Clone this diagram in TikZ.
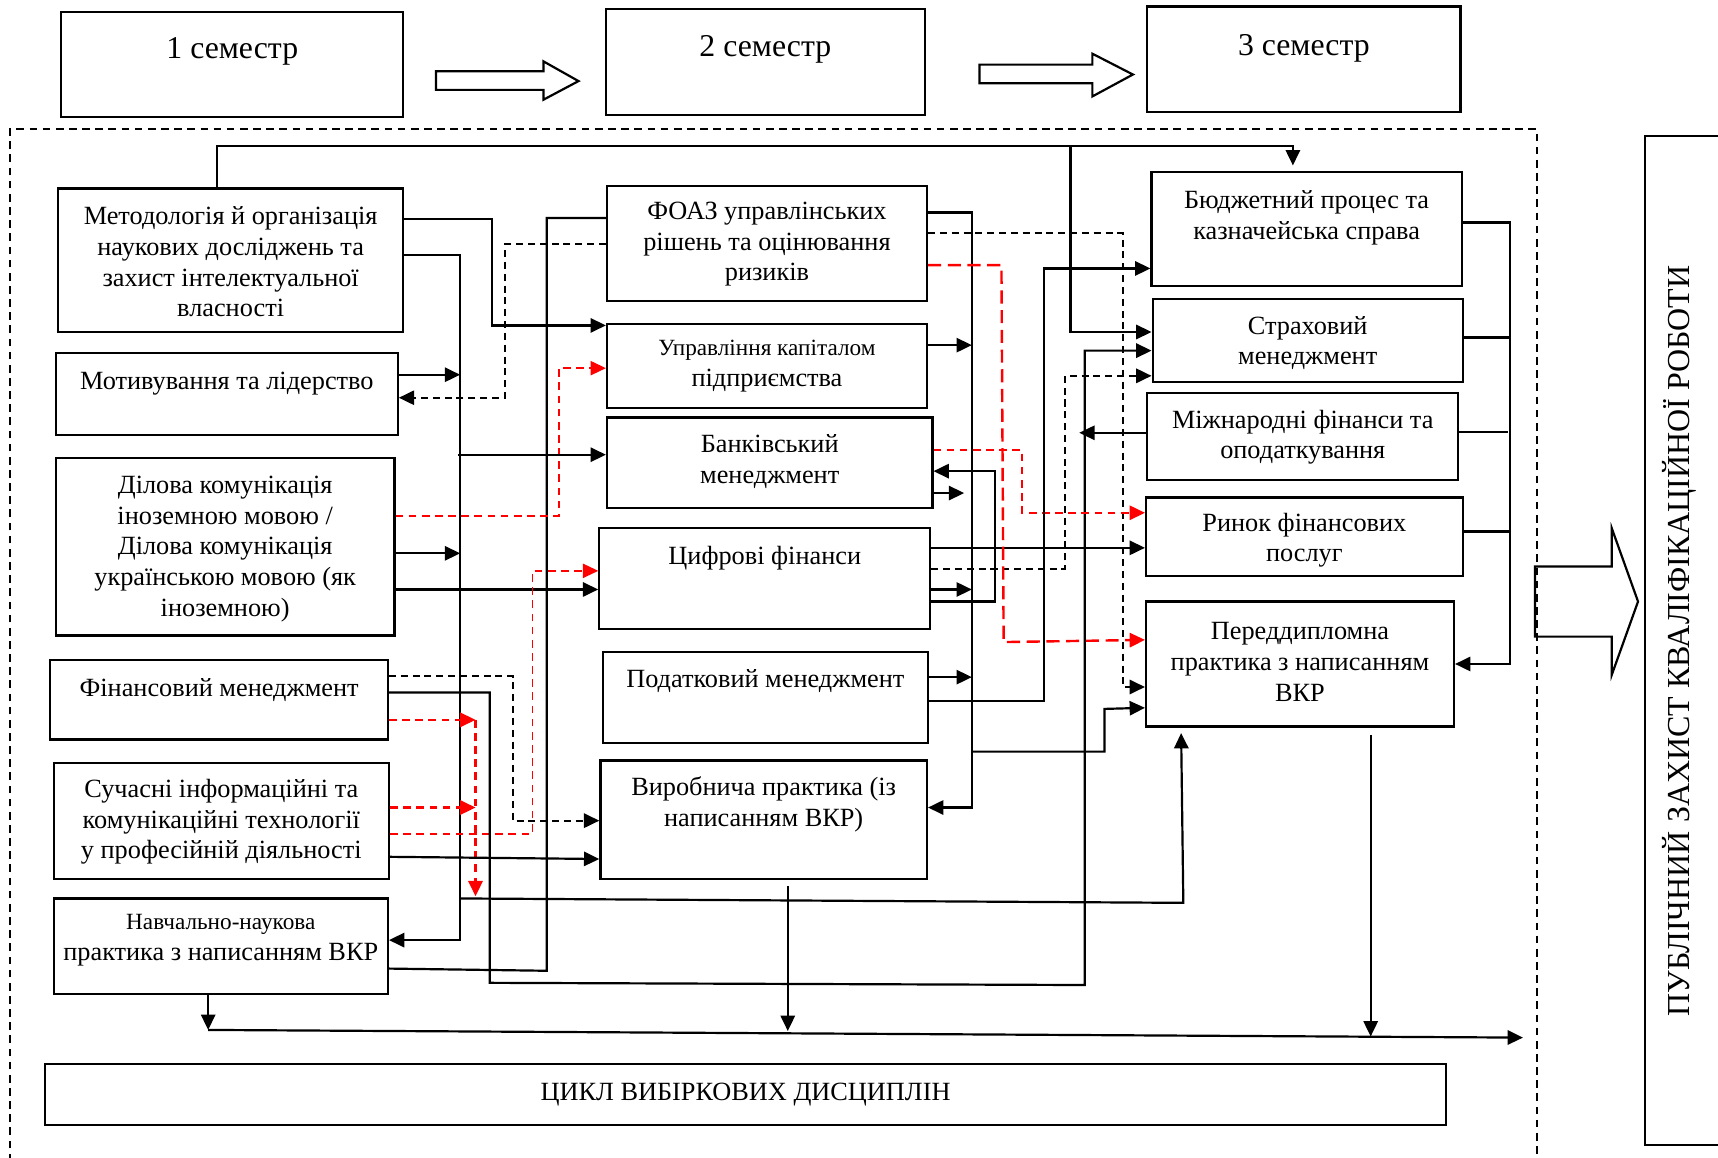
\documentclass[tikz,border=0pt]{standalone}
\usepackage{fontspec}
\setmainfont{Liberation Serif}
\usetikzlibrary{arrows.meta}
\newcommand\ftop{\fontsize{14.5}{17}\selectfont}
\newcommand\fsm{\fontsize{10.6}{13}\selectfont}
\newcommand\bx[7]{%
  \node[box, minimum width={(#4-#2)*0.5pt}, minimum height={(#5-#3)*0.5pt}] (#1) at ({(#2+#4)/2},{(#3+#5)/2}) {};
  \node[txt] (#1t) at ({(#2+#4)/2},#6) {#7};}
\begin{document}
\begin{tikzpicture}[x=0.5pt,y=-0.5pt,
  box/.style={draw,line width=1pt,inner sep=0pt},
  txt/.style={align=center,font=\fontsize{12}{14}\selectfont,inner sep=0pt},
  ln/.style={line width=1pt},
  ar/.style={ln,-{Triangle[length=7pt,width=6.5pt]}},
  dsh/.style={dash pattern=on 3.2pt off 2.2pt},
  rdsh/.style={draw=red,dash pattern=on 3.5pt off 2.5pt},
  rlong/.style={draw=red,dash pattern=on 6pt off 3pt}]
\useasboundingbox (0,0) rectangle (1568,1056);

% semester boxes
\bx{S1}{56}{11}{368}{107}{47}{\ftop 1 семестр}
\bx{S2}{553}{8}{844}{105}{45}{\ftop 2 семестр}
\bx{S3}{1047}{6}{1333}{102}{44}{\ftop 3 семестр}
\draw[line width=1pt] (398,65) -- (496,65) -- (496,56) -- (528,74) -- (496,91) -- (496,82) -- (398,82) -- cycle;
\draw[line width=1pt] (894,59) -- (997,59) -- (997,49) -- (1034,68) -- (997,88) -- (997,76) -- (894,76) -- cycle;

% dashed frame
\draw[line width=1pt,dash pattern=on 3.5pt off 2.5pt] (9,1060) -- (9,118) -- (1403,118) -- (1403,1060);

% left column
\bx{M}{53}{172}{368}{303}{239}{Методологія й організація\\наукових досліджень та\\захист інтелектуальної\\власності}
\bx{Mot}{51}{322}{363}{397}{350}{Мотивування та лідерство}
\bx{D}{51}{418}{360}{580}{501}{Ділова комунікація\\іноземною мовою /\\Ділова комунікація\\українською мовою (як\\іноземною)}
\bx{F}{46}{602}{354}{675}{630}{Фінансовий менеджмент}
\bx{C}{49}{696}{355}{802}{750}{Сучасні інформаційні та\\комунікаційні технології\\у професійній діяльності}
\bx{N}{49}{820}{354}{907}{858}{\fsm Навчально-наукова\\практика з написанням ВКР}

% middle column
\bx{FOAZ}{554}{170}{846}{275}{223}{ФОАЗ управлінських\\рішень та оцінювання\\ризиків}
\bx{UK}{554}{296}{846}{372}{334}{\fsm Управління капіталом\\підприємства}
\bx{BM}{554}{381}{851}{464}{421}{Банківський\\менеджмент}
\bx{CF}{547}{482}{849}{574}{509}{Цифрові фінанси}
\bx{PM}{550}{595}{847}{678}{622}{Податковий менеджмент}
\bx{VP}{548}{694}{846}{802}{734}{Виробнича практика (із\\написанням ВКР)}

% right column
\bx{BP}{1051}{157}{1334}{261}{199}{Бюджетний процес та\\казначейська справа}
\bx{SM}{1052}{273}{1335}{349}{313}{Страховий\\менеджмент}
\bx{MF}{1047}{359}{1331}{438}{399}{Міжнародні фінанси та\\оподаткування}
\bx{RF}{1046}{454}{1335}{526}{493}{Ринок фінансових\\послуг}
\bx{PD}{1046}{549}{1327}{663}{604}{Переддипломна\\практика з написанням\\ВКР}

% bottom
\bx{CV}{41}{971}{1320}{1027}{999}{ЦИКЛ ВИБІРКОВИХ ДИСЦИПЛІН}

% public defence
\node[box, minimum width={74*0.5pt}, minimum height={921*0.5pt}] (PZ) at (1538,584.5) {};
\node[rotate=90,inner sep=0pt,font=\fontsize{14.6}{17}\selectfont] (PZt) at (1533,585) {ПУБЛІЧНИЙ ЗАХИСТ КВАЛІФІКАЦІЙНОЇ РОБОТИ};
\draw[line width=1pt] (1401,517) -- (1471,517) -- (1471,482) -- (1495,549) -- (1471,616) -- (1471,581) -- (1401,581) -- cycle;

% free ends / junctions
\coordinate (j1) at (977,133);
\coordinate (k1) at (420,342);
\coordinate (k2) at (418,415);
\coordinate (k3) at (420,505);
\coordinate (k4) at (420,820);
\coordinate (r1) at (434,657);
\coordinate (r2) at (434,818);
\coordinate (r3) at (434,737);
\coordinate (e0) at (190,940);
\coordinate (e1) at (1390,947);
\coordinate (e2) at (719,941);
\coordinate (e3) at (1251,946);
\coordinate (m1) at (887,315);
\coordinate (m2) at (880,450);
\coordinate (m3) at (887,538);
\coordinate (m4) at (887,618);
\coordinate (m5) at (887,686);
\coordinate (q1) at (985,395);

% top line
\draw[ar] (M.north -| 198,0) -- (198,133) -- (1180,133) -- ([yshift=2.5pt]BP.north -| 1180,0);
\draw[ar] (j1) -- (977,303) -- (SM.west |- 0,303);

% left side connectors
\draw[ar] (M.east |- 0,200) -- (449,200) -- (449,297) -- (UK.west |- 0,297);
\draw[ar] (M.east |- 0,233) -- (420,233) -- (420,858) -- (N.east |- 0,858);
\draw[ar] (Mot.east |- 0,342) -- (k1);
\draw[ar,dsh] (FOAZ.west |- 0,223) -- (461,223) -- (461,363) -- (Mot.east |- 0,363);
\draw[ln] (FOAZ.west |- 0,199) -- (499,199) -- (499,886) -- (N.east |- 0,884);
\draw[ar,rdsh,line width=0.7pt] (D.east |- 0,471) -- (510,471) -- (510,336) -- (UK.west |- 0,336);
\draw[ar] (k2) -- (BM.west |- 0,415);
\draw[ar] (D.east |- 0,505) -- (k3);
\draw[ar] (D.east |- 0,538) -- (CF.west |- 0,538);
\draw[ar,rdsh,line width=0.7pt] (C.east |- 0,761) -- (486,761) -- (486,521) -- (CF.west |- 0,521);
\draw[ar,dsh] (F.east |- 0,617) -- (468,617) -- (468,749) -- (VP.west |- 0,749);
\draw[ar] (F.east |- 0,632) -- (447,632) -- (447,897) -- (990,899) -- (990,320) -- (SM.west |- 0,320);
\draw[ar,rdsh,line width=1.1pt] (F.east |- 0,657) -- (r1);
\draw[ar,rdsh,line width=1.1pt] (r1) -- (r2);
\draw[ar,rdsh,line width=1.1pt] (C.east |- 0,737) -- (r3);
\draw[ar] (C.east |- 0,782) -- (VP.west |- 0,784);
\draw[ar] (k4) -- (1080,824) -- ([yshift=-2.5pt]PD.south -| 1078,0);
\draw[ar] (N.south -| 190,0) -- (e0);
\draw[ar] (e0) -- (e1);
\draw[ar,shorten <=3pt] (VP.south -| 719,0) -- (e2);
\draw[ar,shorten <=3.5pt] (PD.south -| 1251,0) -- (e3);

% middle bus
\draw[ar] (FOAZ.east |- 0,194) -- (887,194) -- (887,737) -- (VP.east |- 0,737);
\draw[ar] (UK.east |- 0,315) -- (m1);
\draw[ar] (BM.east |- 0,450) -- (m2);
\draw[ar] (CF.east |- 0,538) -- (m3);
\draw[ar] (PM.east |- 0,618) -- (m4);
\draw[ar] (m5) -- (1008,686) -- (1008,647) -- (PD.west |- 0,646);
\draw[ar] (CF.east |- 0,549) -- (908,549) -- (908,430) -- (BM.east |- 0,430);
\draw[ar] (CF.east |- 0,500) -- (RF.west |- 0,500);
\draw[ar,dsh] (CF.east |- 0,519) -- (972,519) -- (972,343) -- (SM.west |- 0,343);
\draw[ar,dsh] (FOAZ.east |- 0,213) -- (1025,213) -- (1025,627) -- (PD.west |- 0,627);
\draw[ar,rlong,line width=1.1pt] (FOAZ.east |- 0,242) -- (914,242) -- (916,586) -- (PD.west |- 0,584);
\draw[ar,rdsh,line width=1pt] (BM.east |- 0,411) -- (933,411) -- (933,468) -- (RF.west |- 0,468);
\draw[ar] (PM.east |- 0,640) -- (953,640) -- (953,245) -- (BP.west |- 0,245);
\draw[ar] (MF.west |- 0,395) -- (q1);

% right bus
\draw[ar] (BP.east |- 0,203) -- (1378,203) -- (1378,606) -- (PD.east |- 0,606);
\draw[ln] (SM.east |- 0,308) -- (1378,308);
\draw[ln] (MF.east |- 0,394) -- (1376,394);
\draw[ln] (RF.east |- 0,485) -- (1378,485);
\end{tikzpicture}
\end{document}
